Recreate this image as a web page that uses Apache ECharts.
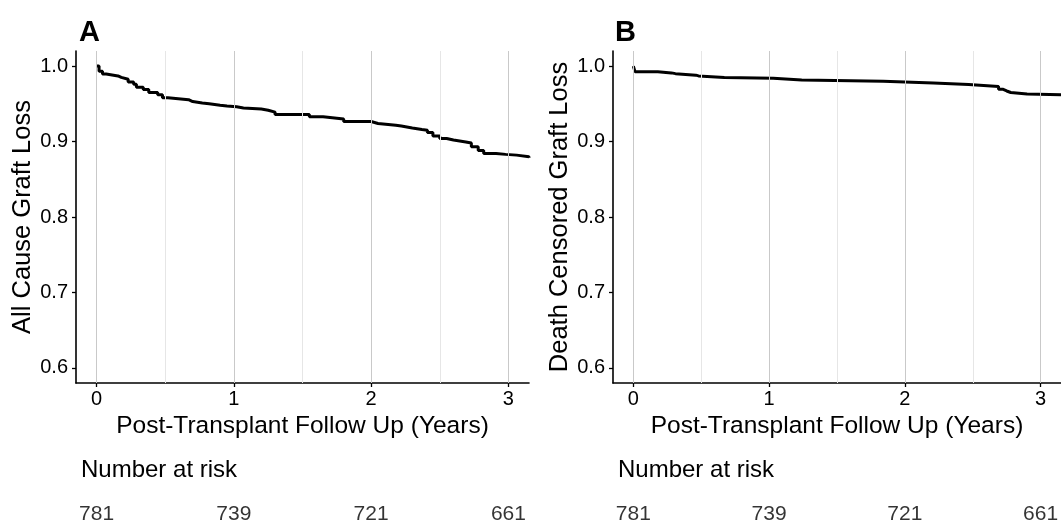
<!DOCTYPE html>
<html>
<head>
  <meta charset="utf-8">
  <title>Graft Loss</title>
  <script src="https://cdn.jsdelivr.net/npm/echarts@6.0.0/dist/echarts.min.js"></script>
  <style>
    body { margin: 0; background: #fff; overflow: hidden; }
  </style>
</head>
<body>
  <div id="chart" style="width: 1061px; height: 529px;"></div>
  <script>
    // Kaplan-Meier steps
    var timesA = [0, 0.018, 0.043, 0.07, 0.156, 0.18, 0.23, 0.27, 0.29, 0.34, 0.38, 0.445, 0.48, 0.52, 0.67, 0.70, 0.77, 0.82, 0.90, 0.95, 1.02, 1.07, 1.20, 1.25, 1.30, 1.55, 1.65, 1.75, 1.80, 2.0, 2.05, 2.18, 2.22, 2.30, 2.37, 2.41, 2.45, 2.50, 2.55, 2.60, 2.69, 2.73, 2.78, 2.82, 2.91, 2.98, 3.06, 3.15];
    var survA = [1.0, 0.993, 0.9895, 0.987, 0.985, 0.9825, 0.979, 0.976, 0.972, 0.969, 0.965, 0.962, 0.958, 0.9555, 0.953, 0.951, 0.950, 0.948, 0.947, 0.946, 0.9445, 0.943, 0.9415, 0.939, 0.936, 0.933, 0.931, 0.930, 0.9265, 0.924, 0.9215, 0.9205, 0.918, 0.916, 0.915, 0.912, 0.9075, 0.904, 0.902, 0.8995, 0.898, 0.893, 0.888, 0.884, 0.883, 0.882, 0.880, 0.8785];

    var timesB = [0, 0.012, 0.18, 0.28, 0.31, 0.46, 0.48, 0.67, 1.03, 1.24, 1.84, 2.21, 2.47, 2.69, 2.72, 2.75, 2.78, 2.90, 3.15];
    var survB = [1.0, 0.9926, 0.991, 0.990, 0.988, 0.987, 0.985, 0.984, 0.9815, 0.980, 0.9777, 0.9755, 0.973, 0.9694, 0.967, 0.965, 0.963, 0.962, 0.961];

    var riskTimes = [0, 1, 2, 3];
    var riskA = ['781', '739', '721', '661'];
    var riskB = ['781', '739', '721', '661'];

    var xTicks = [0, 1, 2, 3];
    var xMinorGrid = [0.5, 1.5, 2.5];
    var yTicks = [0.6, 0.7, 0.8, 0.9, 1.0];

    var chart = echarts.init(document.getElementById('chart'));

    function pairs(xs, ys) {
      var out = [];
      for (var i = 0; i < xs.length; i++) out.push([xs[i], ys[i]]);
      return out;
    }

    // vertical grid lines only, major at whole years and lighter minor at half years
    function gridMarks() {
      var d = [];
      xTicks.forEach(function (v) { d.push({ xAxis: v, lineStyle: { color: '#c9c9c9', width: 1, type: 'solid' } }); });
      xMinorGrid.forEach(function (v) { d.push({ xAxis: v, lineStyle: { color: '#e6e6e6', width: 1, type: 'solid' } }); });
      return d;
    }

    var font = 'Liberation Sans, Arial, Helvetica, sans-serif';
    var panelLefts = [76, 613];
    var panelWidth = 453;

    function panelX(idx) {
      return {
        type: 'value', gridIndex: idx, min: -0.15, max: 3.15,
        name: 'Post-Transplant Follow Up (Years)', nameLocation: 'middle', nameGap: 20,
        nameTextStyle: { fontFamily: font, fontSize: 24.5, color: '#000' },
        axisLine: { show: true, onZero: false, lineStyle: { color: '#000', width: 1.6 } },
        axisTick: { show: true, customValues: xTicks, length: 4, lineStyle: { color: '#000', width: 1.3 } },
        axisLabel: { customValues: xTicks, fontFamily: font, fontSize: 20, color: '#000', margin: 6 },
        splitLine: { show: false }
      };
    }
    function panelY(idx, name, gap) {
      return {
        type: 'value', gridIndex: idx, min: 0.58, max: 1.02,
        name: name, nameLocation: 'middle', nameGap: gap, nameRotate: 90,
        nameTextStyle: { fontFamily: font, fontSize: 25.5, color: '#000' },
        axisLine: { show: true, onZero: false, lineStyle: { color: '#000', width: 1.6 } },
        axisTick: { show: true, customValues: yTicks, length: 4, lineStyle: { color: '#000', width: 1.3 } },
        axisLabel: { customValues: yTicks, fontFamily: font, fontSize: 20, color: '#000', margin: 8,
          formatter: function (v) { return v.toFixed(1); } },
        splitLine: { show: false }
      };
    }
    function riskX(idx) {
      return { type: 'value', gridIndex: idx, min: -0.15, max: 3.15, show: false };
    }
    function riskY(idx) {
      return { type: 'value', gridIndex: idx, min: 0, max: 1, show: false };
    }

    option = {
      animation: false,
      title: [
        { text: 'A', left: 74, top: 13, textStyle: { fontFamily: font, fontSize: 29, fontWeight: 'bold', color: '#000' } },
        { text: 'B', left: 610, top: 13, textStyle: { fontFamily: font, fontSize: 29, fontWeight: 'bold', color: '#000' } },
        { text: 'Number at risk', left: 76, top: 453, textStyle: { fontFamily: font, fontSize: 24, fontWeight: 'normal', color: '#000' } },
        { text: 'Number at risk', left: 613, top: 453, textStyle: { fontFamily: font, fontSize: 24, fontWeight: 'normal', color: '#000' } }
      ],
      grid: [
        { left: panelLefts[0], top: 51, width: panelWidth, height: 332 },
        { left: panelLefts[1], top: 51, width: panelWidth, height: 332 },
        { left: panelLefts[0], top: 504, width: panelWidth, height: 20 },
        { left: panelLefts[1], top: 504, width: panelWidth, height: 20 }
      ],
      xAxis: [panelX(0), panelX(1), riskX(2), riskX(3)],
      yAxis: [
        panelY(0, 'All Cause Graft Loss', 36),
        panelY(1, 'Death Censored Graft Loss', 34),
        riskY(2), riskY(3)
      ],
      series: [
        {
          type: 'line', xAxisIndex: 0, yAxisIndex: 0, z: 1, data: pairs(timesA, survA),
          showSymbol: false, lineStyle: { opacity: 0 }, silent: true,
          markLine: { silent: true, symbol: ['none', 'none'], label: { show: false }, data: gridMarks() }
        },
        {
          type: 'line', xAxisIndex: 1, yAxisIndex: 1, z: 1, data: pairs(timesB, survB),
          showSymbol: false, lineStyle: { opacity: 0 }, silent: true,
          markLine: { silent: true, symbol: ['none', 'none'], label: { show: false }, data: gridMarks() }
        },
        {
          name: 'All Cause', type: 'line', step: 'end', xAxisIndex: 0, yAxisIndex: 0, z: 3,
          data: pairs(timesA, survA), showSymbol: false,
          lineStyle: { color: '#000', width: 3 }
        },
        {
          name: 'Death Censored', type: 'line', step: 'end', xAxisIndex: 1, yAxisIndex: 1, z: 3,
          data: pairs(timesB, survB), showSymbol: false,
          lineStyle: { color: '#000', width: 3 }
        },
        {
          type: 'scatter', xAxisIndex: 2, yAxisIndex: 2, symbolSize: 0,
          data: riskTimes.map(function (t, i) { return [t, 0.5, riskA[i]]; }),
          label: { show: true, position: 'inside', formatter: function (p) { return p.value[2]; },
            fontFamily: font, fontSize: 21, color: '#000' }
        },
        {
          type: 'scatter', xAxisIndex: 3, yAxisIndex: 3, symbolSize: 0,
          data: riskTimes.map(function (t, i) { return [t, 0.5, riskB[i]]; }),
          label: { show: true, position: 'inside', formatter: function (p) { return p.value[2]; },
            fontFamily: font, fontSize: 21, color: '#000' }
        }
      ]
    };

    chart.setOption(option);
  </script>
</body>
</html>
